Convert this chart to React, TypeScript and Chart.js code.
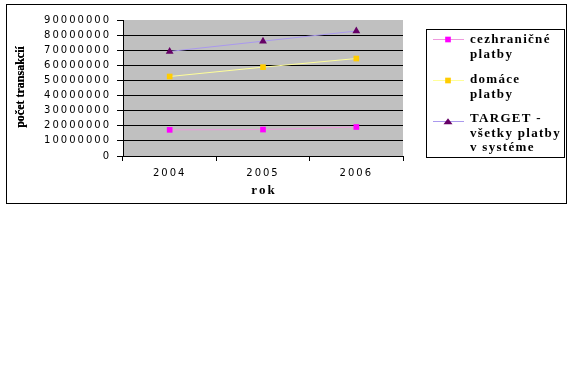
import React, { useEffect, useRef } from "react";
import { Chart, registerables } from "chart.js";

Chart.register(...registerables);

const years = ["2004", "2005", "2006"];
const crossBorder = [17300000, 17500000, 19200000];
const domestic = [52600000, 58800000, 64500000];
const targetAll = [69200000, 76000000, 82700000];
const yTicksMax = 90000000;
const yStep = 10000000;
const seriesNames = [
  ["cezhraničné", "platby"],
  ["domáce", "platby"],
  ["TARGET -", "všetky platby", "v systéme"],
];
const xTitle = "rok";
const yTitle = "počet transakcií";

const TICK_SPACING = "2px";

function drawMarker(ctx: CanvasRenderingContext2D, style: string, x: number, y: number, r: number) {
  ctx.beginPath();
  if (style === "triangle") {
    ctx.moveTo(x - r, y + r * 0.6);
    ctx.lineTo(x, y - r * 0.7);
    ctx.lineTo(x + r, y + r * 0.6);
    ctx.closePath();
  } else {
    const s = Math.SQRT1_2 * r;
    ctx.rect(x - s, y - s, 2 * s, 2 * s);
  }
  ctx.fill();
}

const framePlugin = {
  id: "frame",
  beforeUpdate(chart: any) {
    chart.ctx.letterSpacing = TICK_SPACING;
  },
  beforeDraw(chart: any) {
    const ctx = chart.ctx;
    ctx.save();
    ctx.letterSpacing = "0px";
    ctx.fillStyle = "#ffffff";
    ctx.fillRect(0, 0, chart.width, chart.height);
    ctx.strokeStyle = "#000";
    ctx.lineWidth = 1;
    ctx.strokeRect(6.5, 4.5, 560, 199);
    const a = chart.chartArea;
    ctx.fillStyle = "#c0c0c0";
    ctx.fillRect(a.left, a.top, a.right - a.left, a.bottom - a.top);
    ctx.restore();
    ctx.letterSpacing = TICK_SPACING;
  },
  afterDraw(chart: any) {
    const ctx = chart.ctx;
    ctx.save();
    ctx.fillStyle = "#000";
    ctx.textBaseline = "middle";
    ctx.textAlign = "center";
    ctx.letterSpacing = "2px";
    ctx.font = "bold 13px 'Liberation Serif'";
    ctx.fillText(xTitle, 264, 191);
    ctx.letterSpacing = "0px";
    ctx.save();
    ctx.translate(21, 87);
    ctx.rotate(-Math.PI / 2);
    ctx.font = "bold 12px 'Liberation Serif'";
    ctx.fillText(yTitle, 0, 0);
    ctx.fillText(yTitle, 0, 0.4);
    ctx.restore();

    ctx.strokeStyle = "#000";
    ctx.lineWidth = 1;
    ctx.strokeRect(426.5, 29.5, 138, 128);
    const rows = [[40, 55], [80, 95], [119, 134, 148]];
    const lineY = [39, 80, 121];
    chart.data.datasets.forEach((ds: any, i: number) => {
      const y0 = lineY[i];
      ctx.strokeStyle = ds.borderColor;
      ctx.lineWidth = 1;
      ctx.beginPath();
      ctx.moveTo(433, y0 + 0.5);
      ctx.lineTo(464, y0 + 0.5);
      ctx.stroke();
      ctx.fillStyle = ds.pointBackgroundColor;
      drawMarker(ctx, ds.pointStyle, 448, y0 + 0.5, ds.pointRadius);
      ctx.fillStyle = "#000";
      ctx.textAlign = "left";
      ctx.font = "bold 13px 'Liberation Serif'";
      ctx.letterSpacing = "1.3px";
      seriesNames[i].forEach((t, j) => {
        ctx.fillText(t, 470, rows[i][j]);
      });
    });
    ctx.restore();
    ctx.letterSpacing = TICK_SPACING;
  },
};

export default function App() {
  const ref = useRef<HTMLCanvasElement | null>(null);
  useEffect(() => {
    if (!ref.current) return;
    const chart = new Chart(ref.current, {
      type: "line",
      data: {
        labels: years,
        datasets: [
          {
            label: seriesNames[0].join(" "),
            data: crossBorder,
            borderColor: "#ee99dd",
            borderWidth: 1,
            pointStyle: "rect",
            pointRadius: 4,
            pointBackgroundColor: "#ff00ff",
            pointBorderColor: "#ff00ff",
            pointBorderWidth: 0,
          },
          {
            label: seriesNames[1].join(" "),
            data: domestic,
            borderColor: "#ffff99",
            borderWidth: 1,
            pointStyle: "rect",
            pointRadius: 4,
            pointBackgroundColor: "#ffcc00",
            pointBorderColor: "#ffcc00",
            pointBorderWidth: 0,
          },
          {
            label: seriesNames[2].join(" "),
            data: targetAll,
            borderColor: "#aa99ee",
            borderWidth: 1,
            pointStyle: "triangle",
            pointRadius: 4.5,
            pointBackgroundColor: "#660066",
            pointBorderColor: "#660066",
            pointBorderWidth: 0,
          },
        ],
      },
      options: {
        responsive: false,
        animation: false,
        events: [],
        layout: { padding: { left: 6, top: 20, right: 174, bottom: 188 } },
        plugins: { legend: { display: false }, tooltip: { enabled: false } },
        scales: {
          x: {
            offset: true,
            afterFit: (s: any) => {
              s.height = 40;
            },
            grid: {
              drawOnChartArea: false,
              offset: true,
              tickColor: "#000",
              tickLength: 5,
            },
            border: { color: "#000", width: 1 },
            ticks: {
              color: "#000",
              padding: 6,
              font: { family: "'DejaVu Sans'", size: 10 },
            },
          },
          y: {
            min: 0,
            max: yTicksMax,
            afterFit: (s: any) => {
              s.width = 117;
            },
            grid: {
              color: (c: any) =>
                c.tick && c.tick.value === yTicksMax ? "rgba(0,0,0,0)" : "#000",
              tickColor: "#000",
              tickLength: 6,
            },
            border: { color: "#000", width: 1 },
            ticks: {
              stepSize: yStep,
              color: "#000",
              padding: 6,
              font: { family: "'DejaVu Sans'", size: 10 },
              callback: (v: any) => String(v),
            },
          },
        },
      },
      plugins: [framePlugin],
    });
    return () => chart.destroy();
  }, []);
  return (
    <div style={{ position: "fixed", left: 0, top: 0, width: 577, height: 384, background: "#fff" }}>
      <canvas ref={ref} width={577} height={384} style={{ display: "block" }} />
    </div>
  );
}
